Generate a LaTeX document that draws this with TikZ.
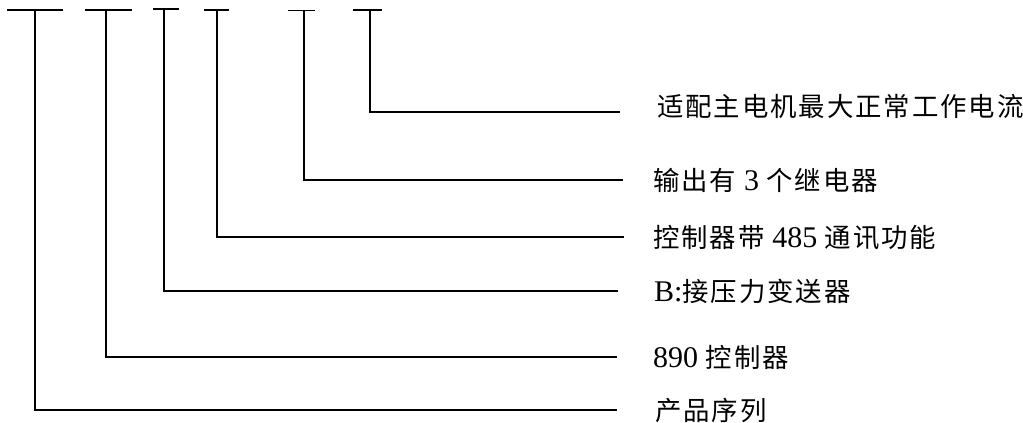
\documentclass[tikz,border=0pt]{standalone}
\usepackage{fontspec}
\setmainfont{Liberation Serif}
\newfontfamily\cjk[Scale=0.88,LetterSpace=7.3]{Noto Sans CJK SC}
\begin{document}
\begin{tikzpicture}[x=1pt,y=-1pt,
  ln/.style={line width=1.6pt,black},
  lbl/.style={anchor=base west,inner sep=0pt,font=\fontsize{30}{36}\selectfont}]
\useasboundingbox (0,0) rectangle (1023,423);
% T bars
\coordinate (l1) at (7,10);   \coordinate (r1) at (63,10);   \coordinate (v1) at (35,10);
\coordinate (l2) at (85,10);  \coordinate (r2) at (132,10);  \coordinate (v2) at (106,10);
\coordinate (l3) at (153,9);  \coordinate (r3) at (179,9);   \coordinate (v3) at (164,9);
\coordinate (l4) at (204,10); \coordinate (r4) at (229,10);  \coordinate (v4) at (217,10);
\coordinate (l5) at (288,10.5); \coordinate (r5) at (315,10.5); \coordinate (v5) at (304,10.5);
\coordinate (l6) at (353,10); \coordinate (r6) at (382,10);  \coordinate (v6) at (370,10);
% line ends
\coordinate (e1) at (617,410);
\coordinate (e2) at (617,357);
\coordinate (e3) at (618,291);
\coordinate (e4) at (624,237);
\coordinate (e5) at (623,180);
\coordinate (e6) at (620,112);
% labels
\node[lbl] (t6) at (657,116) {\cjk 适配主电机最大正常工作电流};
\node[lbl] (t5) at (653,190) {\cjk 输出有};
\node[lbl] (t4) at (653,247) {\cjk 控制器带};
\node[lbl] (t3) at (654,301) {B:{\cjk 接压力变送器}};
\node[lbl] (t2) at (653,367) {890 {\cjk 控制器}};
\node[lbl] (t1) at (655,420) {\cjk 产品序列};
\node[lbl,anchor=base west] (t5b) at (t5.base east) {\ 3 {\cjk 个继电器}};
\node[lbl,anchor=base west] (t4b) at (t4.base east) {\ 485 {\cjk 通讯功能}};
% drawing
\foreach \i in {1,...,6}{
  \draw[ln] (l\i) -- (r\i);
  \draw[ln] (v\i) |- (e\i);
}
\end{tikzpicture}
\end{document}
